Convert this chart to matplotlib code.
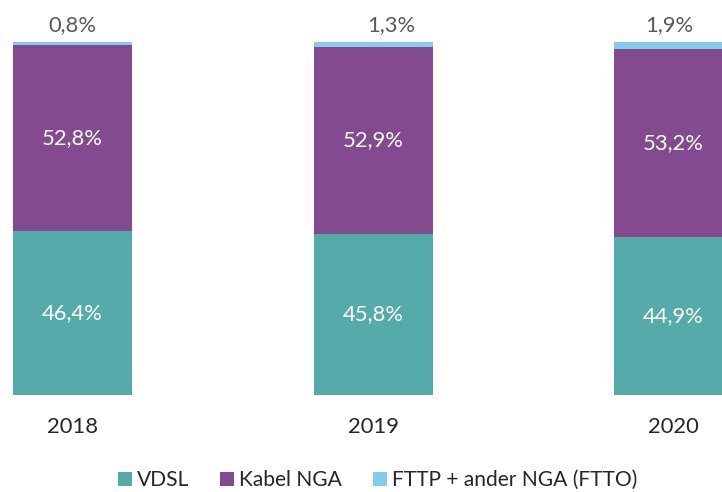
import matplotlib.pyplot as plt
import numpy as np

plt.rcParams['font.family'] = ['Lato', 'DejaVu Sans']

jahre = ["2018", "2019", "2020"]
vdsl = [46.4, 45.8, 44.9]
kabel = [52.8, 52.9, 53.2]
fttp = [0.8, 1.3, 1.9]
serien = ["VDSL", "Kabel NGA", "FTTP + ander NGA (FTTO)"]
farben = ["#55aba9", "#834a8f", "#85cbeb"]

fig = plt.figure(figsize=(7.22, 4.92), dpi=100)
ax = fig.add_axes([0, 0.197, 1, 0.717])

x = np.arange(len(jahre))
breite = 0.396
ax.bar(x, vdsl, breite, color=farben[0], label=serien[0])
ax.bar(x, kabel, breite, bottom=vdsl, color=farben[1], label=serien[1])
unten = np.array(vdsl) + np.array(kabel)
ax.bar(x, fttp, breite, bottom=unten, color=farben[2], label=serien[2])

def fmt(v):
    return f"{v:.1f}%".replace(".", ",")

gr = 15.8
for i in range(len(jahre)):
    ax.text(x[i], vdsl[i] / 2, fmt(vdsl[i]), ha="center", va="center",
            color="white", fontsize=gr)
    ax.text(x[i], vdsl[i] + kabel[i] / 2, fmt(kabel[i]), ha="center",
            va="center", color="white", fontsize=gr)

# Beschriftung oben (in Excel manuell verschoben)
versatz = [0.0, 0.06, -0.013]
for i in range(len(jahre)):
    ax.text(x[i] + versatz[i], 105.0, fmt(fttp[i]), ha="center", va="center",
            color="#595959", fontsize=gr, clip_on=False)

ax.set_xlim(-0.241, 2.161)
ax.set_ylim(0, 100)
ax.set_xticks(x)
ax.set_xticklabels(jahre, fontsize=gr, color="#262626")
ax.tick_params(axis="x", length=0, pad=16)
ax.set_yticks([])
for s in ax.spines.values():
    s.set_visible(False)

fig.legend(loc="lower center", bbox_to_anchor=(0.523, -0.035), ncol=3,
           frameon=False, fontsize=15.1, handlelength=0.67, handleheight=0.67,
           handletextpad=0.25, columnspacing=1.45, labelcolor="#262626")

fig.savefig("out.png", dpi=100)
